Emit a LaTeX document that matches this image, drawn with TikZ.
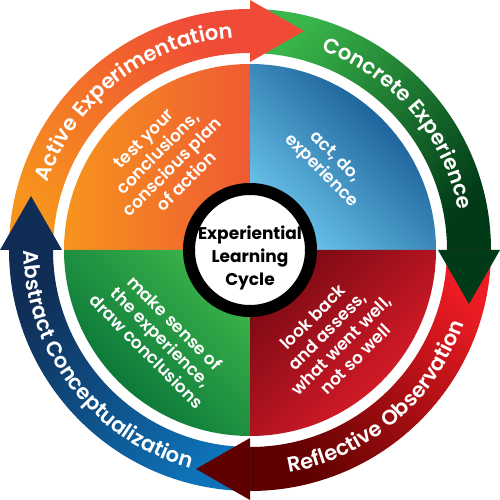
\documentclass[tikz,border=0pt]{standalone}
\usepackage{fontspec}
\setmainfont{Poppins}
\newfontfamily\quadfont{Poppins SemiBold}
\usetikzlibrary{decorations.text}

\definecolor{orangeA}{HTML}{F7941D}
\definecolor{orangeB}{HTML}{EF4B36}
\definecolor{greenA}{HTML}{39B54A}
\definecolor{greenB}{HTML}{013A17}
\definecolor{redA}{HTML}{ED1C24}
\definecolor{redB}{HTML}{5E0000}
\definecolor{blueA}{HTML}{0E72B8}
\definecolor{blueB}{HTML}{0F2D55}
\definecolor{qorangeA}{HTML}{F7941D}
\definecolor{qorangeB}{HTML}{EF5A33}
\definecolor{qblueA}{HTML}{0A4C88}
\definecolor{qblueB}{HTML}{6CC5EC}
\definecolor{qgreenA}{HTML}{3DB54A}
\definecolor{qgreenB}{HTML}{006A36}
\definecolor{qredA}{HTML}{7A0A14}
\definecolor{qredB}{HTML}{E81E2B}

\newcommand{\ringfont}{\quadfont\fontsize{21}{21}\selectfont}

\tikzset{
  ringtext/.style={decorate, decoration={text along path, text align=center,
      text color=white, text={|\ringfont|#1}}},
  quadtext/.style={text=white, align=center, inner sep=0pt,
      font=\quadfont\fontsize{17}{20}\selectfont},
  hubtext/.style={text=black, align=center, inner sep=0pt,
      font=\bfseries\fontsize{17}{23}\selectfont}
}

\begin{document}
\begin{tikzpicture}[x=1pt,y=1pt]
        \path[use as bounding box, fill=white] (-250,-250) rectangle (250,250);
        % quadrants
        \shade[left color=qorangeA, right color=qorangeB] (0,0) -- (90:186pt)
                arc[start angle=90, end angle=180, radius=186pt] -- cycle;
        \shade[top color=qblueA, bottom color=qblueB, shading angle=-45] (0,0) -- (0:186pt)
                arc[start angle=0, end angle=90, radius=186pt] -- cycle;
        \shade[top color=qgreenA, bottom color=qgreenB, shading angle=-45] (0,0) -- (180:186pt)
                arc[start angle=180, end angle=270, radius=186pt] -- cycle;
        \shade[top color=qredA, bottom color=qredB, shading angle=45] (0,0) -- (270:186pt)
                arc[start angle=270, end angle=360, radius=186pt] -- cycle;
        % rings
        \shade[top color=orangeB, bottom color=orangeA, shading angle=-45] (180:241pt)
                arc[start angle=180, end angle=90, radius=241pt] -- (90:197pt)
                arc[start angle=90, end angle=180, radius=197pt] -- cycle;
        \shade[top color=greenA, bottom color=greenB, shading angle=45] (90:241pt)
                arc[start angle=90, end angle=0, radius=241pt] -- (0:197pt)
                arc[start angle=0, end angle=90, radius=197pt] -- cycle;
        \shade[top color=redA, bottom color=redB, shading angle=-45] (0:241pt)
                arc[start angle=0, end angle=-90, radius=241pt] -- (-90:197pt)
                arc[start angle=-90, end angle=0, radius=197pt] -- cycle;
        \shade[top color=blueB, bottom color=blueA, shading angle=45] (-90:241pt)
                arc[start angle=-90, end angle=-180, radius=241pt] -- (-180:197pt)
                arc[start angle=-180, end angle=-90, radius=197pt] -- cycle;
        % arrow heads
        \fill[orangeB] (0,188) -- (0,250) -- (54,219) -- cycle;
        \fill[greenB] (188,0) -- (250,0) -- (219,-54) -- cycle;
        \fill[redB] (0,-188) -- (0,-250) -- (-54,-219) -- cycle;
        \fill[blueB] (-188,0) -- (-250,0) -- (-219,54) -- cycle;
        % hub
        \draw[line width=12pt, fill=white] (0,0) circle[radius=61pt];
        \node (hub) [hubtext] at (0,-8) {Experiential\\Learning\\Cycle};
        % quadrant texts
        \node (active) [quadtext, rotate=45] at (-85,90)
                {test your\\conclusions,\\conscious plan\\of action};
        \node (concrete) [quadtext, rotate=-45] at (78,86) {act, do,\\experience};
        \node (abstract) [quadtext, rotate=-45] at (-89,-87)
                {make sense of\\the experience,\\draw conclusions};
        \node (reflective) [quadtext, rotate=45] at (84,-88)
                {look back\\and assess,\\what went well,\\not so well};
        % ring labels
        \path[ringtext=Active Experimentation] (172:213pt)
                arc[start angle=172, end angle=84, radius=213pt];
        \path[ringtext=Concrete Experience] (85:212pt)
                arc[start angle=85, end angle=-4, radius=212pt];
        \path[ringtext=Reflective Observation] (-95:226pt)
                arc[start angle=-95, end angle=-4, radius=226pt];
        \path[ringtext=Abstract Conceptualization] (172:226pt)
                arc[start angle=172, end angle=263, radius=226pt];
\end{tikzpicture}
\end{document}
